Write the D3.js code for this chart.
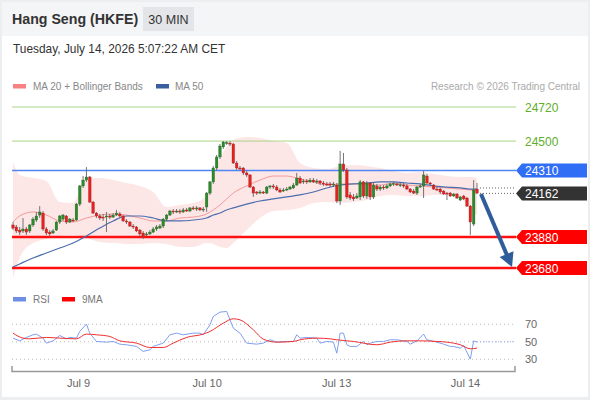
<!DOCTYPE html>
<html><head><meta charset="utf-8">
<script src="https://cdn.jsdelivr.net/npm/d3@7"></script>
<style>
html,body{margin:0;padding:0;background:#fff;}
svg{display:block;font-family:"Liberation Sans",Arial,sans-serif;}
</style></head><body>
<svg id="c" width="590" height="400"></svg>
<script>
// ---------- DATA ----------
const openP=[23958,23945,23925,23919,23932,23919,23958,23990,24022,24035,
23932,23912,23906,23925,23977,23996,24016,23977,23990,23990,
24093,24210,24248,24268,24106,24035,24016,24009,24009,24016,
24009,24022,24029,24016,23984,23977,23951,23945,23925,23906,
23893,23900,23912,23932,23938,23951,23996,24022,24048,24042,
24048,24042,24055,24048,24068,24061,24068,24055,24074,24164,
24236,24326,24397,24462,24487,24487,24481,24358,24326,24326,
24294,24281,24203,24171,24164,24171,24164,24203,24210,24203,
24184,24177,24184,24190,24197,24216,24261,24236,24242,24236,
24248,24236,24242,24229,24223,24223,24216,24216,24113,24352,
24313,24152,24139,24132,24139,24236,24145,24229,24139,24210,
24190,24203,24197,24210,24223,24223,24216,24216,24210,24190,
24177,24164,24203,24210,24274,24229,24216,24190,24190,24177,
24164,24164,24145,24158,24119,24145,24132,24080,23964,24190];
const highP=[23977,23958,23945,24003,23945,23964,24009,24042,24080,24048,
23945,23925,23932,23984,24022,24029,24022,24003,24003,24100,
24216,24274,24332,24274,24113,24042,24029,24029,24042,24029,
24035,24055,24042,24022,23996,23984,23964,23951,23932,23919,
23912,23925,23945,23958,23964,24003,24029,24055,24061,24061,
24061,24068,24068,24074,24080,24080,24074,24074,24171,24242,
24339,24410,24481,24500,24500,24500,24487,24371,24339,24332,
24307,24287,24210,24177,24184,24177,24210,24216,24223,24216,
24197,24197,24203,24210,24229,24294,24274,24255,24255,24261,
24261,24255,24248,24242,24236,24236,24236,24229,24436,24423,
24326,24171,24158,24164,24248,24242,24242,24236,24229,24223,
24216,24216,24223,24229,24236,24229,24229,24229,24223,24197,
24190,24210,24223,24307,24287,24236,24223,24203,24197,24184,
24171,24171,24164,24164,24145,24152,24139,24087,24248,24229];
const lowP=[23925,23906,23893,23906,23893,23906,23945,23977,24003,23919,
23893,23887,23900,23919,23964,23984,23964,23971,23977,23984,
24080,24197,24236,24100,24029,24003,23990,23984,23912,23996,
24003,24016,24003,23977,23964,23945,23932,23912,23887,23867,
23887,23893,23906,23919,23932,23938,23984,24016,24029,24035,
24029,24035,24042,24042,24055,24048,24048,24042,24042,24152,
24223,24313,24384,24449,24475,24468,24352,24313,24313,24281,
24268,24197,24139,24152,24158,24158,24158,24190,24190,24177,
24164,24171,24177,24184,24190,24210,24223,24223,24223,24229,
24229,24223,24216,24210,24210,24203,24203,24100,24087,24300,
24126,24119,24113,24126,24119,24132,24126,24119,24126,24177,
24177,24184,24190,24203,24210,24210,24203,24197,24184,24164,
24158,24152,24197,24132,24223,24216,24184,24177,24158,24152,
24119,24139,24139,24126,24113,24119,24074,23893,23951,24158];
const closeP=[23938,23919,23912,23932,23912,23958,23996,24016,24042,23932,
23906,23900,23919,23977,24016,24022,23977,23996,23984,24093,
24210,24248,24268,24106,24035,24016,24003,24003,24016,24009,
24022,24035,24016,23984,23977,23951,23945,23919,23900,23887,
23900,23912,23932,23945,23951,23996,24022,24048,24042,24048,
24042,24055,24048,24068,24061,24068,24055,24061,24164,24236,
24326,24397,24468,24494,24490,24481,24358,24326,24322,24294,
24281,24203,24164,24164,24171,24164,24203,24210,24203,24184,
24171,24184,24190,24203,24216,24261,24229,24242,24236,24248,
24236,24242,24229,24223,24220,24216,24223,24113,24352,24313,
24139,24132,24126,24145,24236,24145,24229,24139,24216,24190,
24203,24197,24210,24223,24226,24216,24218,24210,24190,24171,
24164,24203,24210,24281,24229,24223,24190,24184,24171,24158,
24158,24145,24158,24132,24139,24126,24080,23977,24184,24164];

// indicator samples (bar index -> value)
const indIdx=[0,2,6,10,14,18,22,26,30,34,38,42,46,50,54,58,60,62,64,66,70,74,78,82,86,90,94,98,102,106,110,114,118,122,126,130,134,137,139];
const bbUpper=[24365,24281,24261,24242,24106,24100,24261,24261,24248,24229,24210,24171,24074,24087,24100,24145,24274,24391,24462,24507,24526,24520,24500,24487,24358,24326,24319,24339,24345,24339,24326,24307,24294,24300,24287,24274,24268,24268,24261];
const bbLower=[23615,23745,23841,23867,23887,23893,23874,23848,23841,23835,23835,23841,23835,23816,23816,23841,23835,23816,23809,23841,23925,24003,24048,24055,24068,24100,24106,24100,24106,24119,24145,24152,24145,24145,24152,24152,24132,24061,24022];
const ma20=[23977,24016,24042,24022,23984,23977,24003,24022,24029,24022,24003,23984,23984,24003,24009,24029,24055,24087,24126,24164,24210,24248,24274,24274,24255,24236,24216,24223,24223,24216,24216,24229,24216,24210,24203,24197,24190,24184,24177];
const ma50=[23686,23706,23745,23777,23809,23841,23887,23938,23984,24016,24016,24003,23984,23984,23990,24003,24022,24035,24055,24068,24093,24113,24126,24139,24152,24171,24197,24216,24223,24229,24236,24236,24229,24223,24210,24203,24197,24190,24190];

const rsiIdx=[0,2,4,6,7,9,10,12,14,16,17,19,20,22,23,25,28,30,32,34,37,39,41,42,45,47,49,51,54,56,57,59,60,62,64,66,68,70,73,75,77,79,82,84,85,86,88,91,92,94,96,97,98,99,100,101,103,105,106,107,109,111,113,115,118,119,121,123,124,127,129,131,132,134,135,137,138,139];
const rsiVal=[54.2,51.1,55,58,58.8,54.2,48.5,51.1,57.2,53.4,55,54.2,61.8,70.2,59.9,50.4,49.6,50.4,47.3,46.6,44.7,39,40.9,44.7,48.5,58,59.9,58,59.9,59.9,58,69.4,79,83.9,84.7,65.6,59.9,48.5,47.3,48.5,52.3,49.6,50.4,50.4,58,54.2,55,54.2,48.5,50.4,49.6,37,59.9,59.9,46.6,44.7,44.7,50.4,46.6,48.5,50.4,50.4,52.3,52.3,50.4,47.3,51.1,58.8,52.3,49.6,47.3,44.7,44.7,42.8,45.8,30.2,51.1,49.6];
const rsiMaIdx=[0,3,5,10,14,19,22,25,29,32,37,41,45,48,52,57,59,63,66,68,72,75,79,84,86,91,95,97,102,109,113,118,122,127,130,134,137,139];
const rsiMaVal=[59.9,54.2,53.4,55,54.2,53.4,58.8,58,56.1,51.1,48.5,43.5,43.5,48.5,55,58.8,61.8,71.3,76.3,75.1,63.7,53,49.6,50.4,52.3,54.2,53.4,52.3,50.4,46.6,49.6,51.1,51.1,50.4,49.6,46.6,42,42.8];

const targetLevels=[24720,24500];
const resistLevel=24310;
const lastPrice=24162;
const askPrice=24197;
const supportLevels=[23880,23680];
const rsiTicks=[70,50,30];
const dayLabels=["Jul 9","Jul 10","Jul 13","Jul 14"];
const dayIdx=[19.5,58,96.8,135.4];
const arrowFrom=[140.2,24158];
const arrowTo=[149.5,23686];

// ---------- CHART ----------
const svg=d3.select("#c");
const x=d3.scaleLinear().domain([0,139]).range([13,477]);
const y=d3.scaleLinear().domain([23680,24720]).range([268,107]);
const yr=d3.scaleLinear().domain([30,70]).range([359.3,324.3]);
const L=12,R=516;

svg.append("rect").attr("width",590).attr("height",400).attr("fill","#eceef0");
svg.append("rect").attr("x",2).attr("y",2).attr("width",586).attr("height",395).attr("fill","#fff");
svg.append("rect").attr("x",2).attr("y",2).attr("width",586).attr("height",34).attr("fill","#f4f5f6");

svg.append("text").attr("x",12).attr("y",24).attr("font-size",14.2).attr("font-weight","bold").attr("fill","#333").text("Hang Seng (HKFE)");
svg.append("rect").attr("x",143).attr("y",7).attr("width",51).attr("height",24).attr("fill","#e3e5e8");
svg.append("text").attr("x",168.5).attr("y",24).attr("text-anchor","middle").attr("font-size",12.5).attr("fill","#333").text("30 MIN");
svg.append("text").attr("x",13).attr("y",53).attr("font-size",11.9).attr("fill","#333").text("Tuesday, July 14, 2026 5:07:22 AM CET");

// legend
svg.append("rect").attr("x",13).attr("y",84).attr("width",13).attr("height",4.5).attr("fill","#f88080");
svg.append("text").attr("x",33).attr("y",90).attr("font-size",10).attr("fill","#888").text("MA 20 + Bollinger Bands");
svg.append("rect").attr("x",156).attr("y",84).attr("width",13).attr("height",4.5).attr("fill","#3a5f9e");
svg.append("text").attr("x",175).attr("y",90).attr("font-size",10).attr("fill","#888").text("MA 50");
svg.append("text").attr("x",580).attr("y",90).attr("text-anchor","end").attr("font-size",10).attr("fill","#aaa").text("Research \u00a9 2026 Trading Central");

// bollinger band
const band=indIdx.map((d,i)=>({i:d,u:bbUpper[i],l:bbLower[i],m:ma20[i],m5:ma50[i]}));
svg.append("path").datum(band).attr("fill","#fde3e3").attr("opacity",0.9)
  .attr("d",d3.area().x(d=>x(d.i)).y0(d=>y(d.l)).y1(d=>y(d.u)).curve(d3.curveMonotoneX));

// levels
targetLevels.forEach(v=>{
  svg.append("line").attr("x1",L).attr("x2",R).attr("y1",y(v)).attr("y2",y(v)).attr("stroke","#a9d485").attr("stroke-width",1);
  svg.append("text").attr("x",525).attr("y",y(v)+4.5).attr("font-size",12).attr("fill","#62ad2a").text(v);
});
svg.append("line").attr("x1",L).attr("x2",R).attr("y1",y(resistLevel)).attr("y2",y(resistLevel)).attr("stroke","#4f86f5").attr("stroke-width",1.6);
supportLevels.forEach(v=>{
  svg.append("line").attr("x1",L).attr("x2",R).attr("y1",y(v)).attr("y2",y(v)).attr("stroke","#ff1010").attr("stroke-width",2.4);
});

// lines
svg.append("path").datum(band).attr("fill","none").attr("stroke","#f39a9a").attr("stroke-width",1)
  .attr("d",d3.line().x(d=>x(d.i)).y(d=>y(d.m)).curve(d3.curveMonotoneX));
svg.append("path").datum(band).attr("fill","none").attr("stroke","#4a6eae").attr("stroke-width",1.2)
  .attr("d",d3.line().x(d=>x(d.i)).y(d=>y(d.m5)).curve(d3.curveMonotoneX));

// candles
const candles=openP.map((o,i)=>({i,o,h:highP[i],l:lowP[i],c:closeP[i]}));
const cg=svg.append("g");
cg.selectAll("line").data(candles).join("line")
  .attr("x1",d=>x(d.i)).attr("x2",d=>x(d.i)).attr("y1",d=>y(d.h)).attr("y2",d=>y(d.l))
  .attr("stroke","#666").attr("stroke-width",0.9);
cg.selectAll("rect").data(candles).join("rect")
  .attr("x",d=>x(d.i)-1.3).attr("width",2.6)
  .attr("y",d=>y(Math.max(d.o,d.c))).attr("height",d=>Math.max(1,Math.abs(y(d.o)-y(d.c))))
  .attr("fill",d=>d.c>=d.o?"#2b8a2b":"#e32222")
  .attr("stroke",d=>d.c>=d.o?"#1d5e1d":"#a01515").attr("stroke-width",0.3);

// last price dotted lines
[lastPrice,askPrice].forEach(v=>{
  svg.append("line").attr("x1",x(139)+3).attr("x2",R).attr("y1",y(v)).attr("y2",y(v))
    .attr("stroke","#666").attr("stroke-width",1).attr("stroke-dasharray","1,2");
});

// arrow
const ax0=x(arrowFrom[0]),ay0=y(arrowFrom[1]),ax1=x(arrowTo[0]),ay1=y(arrowTo[1]);
const dx=ax1-ax0,dy=ay1-ay0,len=Math.hypot(dx,dy),ux=dx/len,uy=dy/len;
const bx=ax1-ux*14,by=ay1-uy*14,px=-uy,py=ux;
svg.append("line").attr("x1",ax0).attr("y1",ay0).attr("x2",bx+ux*2).attr("y2",by+uy*2).attr("stroke","#2f5d9b").attr("stroke-width",4);
svg.append("path").attr("d",`M${ax1},${ay1}L${bx+px*7.5},${by+py*7.5}L${bx-px*7.5},${by-py*7.5}Z`).attr("fill","#2f5d9b");

// right price tags
function tag(v,color){
  const cy=y(v);
  svg.append("path").attr("d",`M${R},${cy}L${R+6},${cy-7}L587,${cy-7}L587,${cy+7}L${R+6},${cy+7}Z`).attr("fill",color);
  svg.append("text").attr("x",525).attr("y",cy+4.5).attr("font-size",12).attr("fill","#fff").text(v);
}
tag(resistLevel,"#2f6ef5");
tag(lastPrice,"#333333");
supportLevels.forEach(v=>tag(v,"#ff0000"));

// ---------- RSI PANEL ----------
svg.append("rect").attr("x",13).attr("y",297).attr("width",13).attr("height",4.5).attr("fill","#6f8fe6");
svg.append("text").attr("x",33).attr("y",303).attr("font-size",10).attr("fill","#777").text("RSI");
svg.append("rect").attr("x",62).attr("y",297).attr("width",13).attr("height",4.5).attr("fill","#ff0000");
svg.append("text").attr("x",82).attr("y",303).attr("font-size",10).attr("fill","#777").text("9MA");

rsiTicks.forEach(v=>{
  svg.append("line").attr("x1",L).attr("x2",515).attr("y1",yr(v)).attr("y2",yr(v))
    .attr("stroke","#bbb").attr("stroke-width",1).attr("stroke-dasharray","1,3");
});
const ra=svg.append("g").attr("transform","translate(520,0)")
  .call(d3.axisRight(yr).tickValues(rsiTicks).tickSize(0).tickPadding(5));
ra.select(".domain").remove();
ra.selectAll("text").attr("font-size",11).attr("fill","#666").attr("font-family","Liberation Sans, Arial, sans-serif");

const rsi=rsiIdx.map((d,i)=>({i:d,v:rsiVal[i]}));
const rsiMa=rsiMaIdx.map((d,i)=>({i:d,v:rsiMaVal[i]}));
svg.append("line").attr("x1",x(139)).attr("x2",515).attr("y1",yr(50)).attr("y2",yr(50))
  .attr("stroke","#8faaf0").attr("stroke-width",1).attr("stroke-dasharray","1,2");
svg.append("path").datum(rsi).attr("fill","none").attr("stroke","#7f9ff0").attr("stroke-width",1)
  .attr("d",d3.line().x(d=>x(d.i)).y(d=>yr(d.v)));
svg.append("path").datum(rsiMa).attr("fill","none").attr("stroke","#f03030").attr("stroke-width",1)
  .attr("d",d3.line().x(d=>x(d.i)).y(d=>yr(d.v)).curve(d3.curveMonotoneX));

// x axis
svg.append("path").attr("d",`M${L},366V371.5H515V366`).attr("fill","none").attr("stroke","#999").attr("stroke-width",1.5);
const xa=svg.append("g").attr("transform","translate(0,372)")
  .call(d3.axisBottom(x).tickValues(dayIdx).tickFormat((d,i)=>dayLabels[i]).tickSize(0).tickPadding(7));
xa.select(".domain").remove();
xa.selectAll("text").attr("font-size",11).attr("fill","#666").attr("font-family","Liberation Sans, Arial, sans-serif");
</script>
</body></html>
